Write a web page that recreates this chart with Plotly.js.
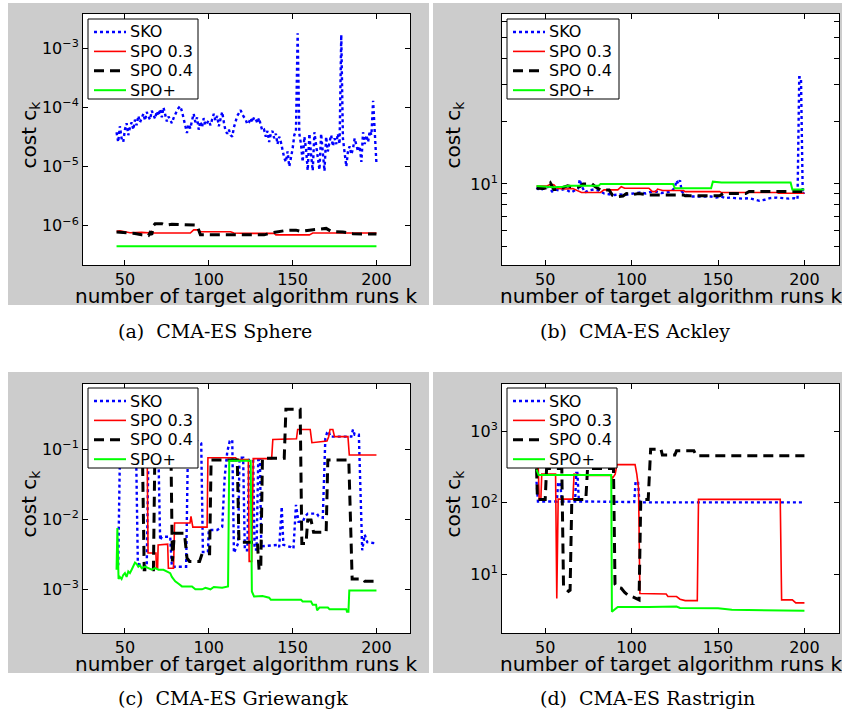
<!DOCTYPE html>
<html>
<head>
<meta charset="utf-8">
<script src="https://cdn.plot.ly/plotly-3.0.1.min.js"></script>
<style>
  html, body { margin: 0; padding: 0; background: #ffffff; }
  #chart { width: 842px; height: 715px; }
</style>
</head>
<body>
<div id="chart"></div>
<script>
// Cost c_k of the incumbent versus number of target algorithm runs k,
// for four tuning procedures on four CMA-ES benchmark problems.

const methods = ['SKO', 'SPO 0.3', 'SPO 0.4', 'SPO+'];
const xTickVals = [50, 100, 150, 200];

// ---------- (a) CMA-ES Sphere ----------
const skoSphereFirstRun = 45;
const skoSphere = [
  3.8e-5, 2.6e-5, 4.8e-5, 3.0e-5, 2.6e-5, 4.2e-5, 5.4e-5, 3.4e-5, 4.6e-5, 5.6e-5,
  4.2e-5, 6.2e-5, 5.0e-5, 7.2e-5, 5.6e-5, 6.6e-5, 7.8e-5, 6.0e-5, 8.4e-5, 7.0e-5,
  6.2e-5, 8.8e-5, 7.4e-5, 6.4e-5, 8.6e-5, 7.2e-5, 9.4e-5, 6.8e-5, 1.0e-4, 7.6e-5,
  5.8e-5, 7.0e-5, 6.0e-5, 5.4e-5, 6.6e-5, 7.8e-5, 8.8e-5, 9.8e-5, 1.05e-4, 8.6e-5,
  6.4e-5, 4.4e-5, 3.7e-5, 5.2e-5, 4.4e-5, 6.0e-5, 7.8e-5, 5.6e-5, 6.8e-5, 4.2e-5,
  5.8e-5, 4.6e-5, 6.6e-5, 5.0e-5, 5.4e-5, 6.0e-5, 5.0e-5, 6.6e-5, 7.8e-5, 6.0e-5,
  7.2e-5, 4.8e-5, 6.4e-5, 8.4e-5, 5.6e-5, 4.0e-5, 3.6e-5, 4.2e-5, 3.4e-5, 3.2e-5,
  4.6e-5, 5.8e-5, 7.2e-5, 8.0e-5, 9.0e-5, 7.6e-5, 6.8e-5, 6.2e-5, 5.2e-5, 5.6e-5,
  6.6e-5, 5.6e-5, 6.8e-5, 6.4e-5, 5.4e-5, 6.6e-5, 5.0e-5, 4.0e-5, 4.2e-5, 3.2e-5,
  4.0e-5, 2.6e-5, 3.6e-5, 4.0e-5, 3.0e-5, 3.6e-5, 2.4e-5, 3.2e-5, 2.6e-5, 1.8e-5,
  1.4e-5, 1.2e-5, 1.8e-5, 1.0e-5, 1.4e-5, 2.0e-5, 3.4e-5, 4.0e-5, 1.8e-3, 3.6e-5,
  2.4e-5, 1.2e-5, 3.2e-5, 2.0e-5, 8.6e-6, 3.6e-5, 1.6e-5, 8.5e-6, 3.8e-5, 2.2e-5,
  1.2e-5, 8.8e-6, 3.6e-5, 1.6e-5, 8.4e-6, 3.2e-5, 1.8e-5, 2.6e-5, 3.4e-5, 2.2e-5,
  3.0e-5, 2.4e-5, 3.6e-5, 2.4e-5, 1.7e-3, 3.0e-5, 1.6e-5, 1.0e-5, 1.8e-5, 2.2e-5,
  1.6e-5, 2.0e-5, 3.0e-5, 2.4e-5, 1.8e-5, 2.2e-5, 1.2e-5, 3.8e-5, 2.4e-5, 3.4e-5,
  2.6e-5, 4.0e-5, 3.4e-5, 1.3e-4, 3.2e-5, 1.1e-5
];
const spo03Sphere = [[45,8.0e-7],[47,8.2e-7],[50,7.9e-7],[53,7.6e-7],[60,7.7e-7],[64,7.6e-7],[66,8.0e-7],[67,7.5e-7],[89,7.5e-7],[91,8.5e-7],[94,8.5e-7],[95,7.9e-7],[113,7.9e-7],[115,7.5e-7],[124,7.4e-7],[139,7.4e-7],[140,7.0e-7],[160,7.0e-7],[162,7.5e-7],[200,7.5e-7]];
const spo04Sphere = [[45,7.8e-7],[50,7.6e-7],[56,7.4e-7],[60,7.0e-7],[64,6.8e-7],[65,7.6e-7],[66,7.0e-7],[67,1.0e-6],[68,1.08e-6],[72,1.08e-6],[74,1.02e-6],[78,1.06e-6],[82,1.05e-6],[86,1.02e-6],[93,1.02e-6],[95,7.0e-7],[133,7.0e-7],[137,7.5e-7],[142,7.9e-7],[146,8.3e-7],[152,8.4e-7],[155,8.0e-7],[160,8.4e-7],[164,8.6e-7],[170,9.0e-7],[173,8.0e-7],[180,7.8e-7],[186,7.3e-7],[200,7.2e-7]];
const spoPlusSphere = [[45,4.5e-7],[200,4.5e-7]];

// ---------- (b) CMA-ES Ackley ----------
const skoAckley = [[45,9.6],[47,9.3],[49,9.5],[52,9.7],[54,9.2],[56,9.4],[58,9.3],[61,9.45],[63,9.3],[65,9.1],[67,9.3],[69,9.5],[70,10.5],[71,9.8],[73,9.1],[75,9.3],[78,9.4],[81,9.3],[84,9.0],[87,8.9],[90,8.85],[93,8.9],[96,8.85],[99,8.95],[102,9.05],[105,9.1],[108,9.0],[111,9.15],[114,9.2],[117,9.05],[120,9.1],[123,9.2],[125,9.6],[126,10.4],[127,10.0],[128,10.4],[129,9.2],[131,8.9],[134,8.7],[138,8.7],[142,8.65],[146,8.7],[149,8.6],[152,8.7],[154,8.55],[157,8.6],[160,8.55],[164,8.5],[168,8.55],[171,8.45],[174,8.3],[177,8.4],[180,8.55],[184,8.6],[188,8.55],[191,8.5],[194,8.55],[196,8.45],[197,32.4],[198,32.4],[199,9.0],[200,9.1]];
const spo03Ackley = [[45,9.78],[51,9.78],[53,9.95],[55,9.9],[57,9.5],[62,9.45],[66,9.5],[71,9.1],[82,9.1],[84,9.36],[92,9.36],[94,9.7],[96,9.54],[110,9.54],[112,9.19],[114,9.19],[115,9.45],[118,9.3],[130,9.3],[131,9.19],[151,9.19],[152,9.09],[184,9.09],[185,9.02],[200,9.02]];
const spo04Ackley = [[45,9.54],[49,9.5],[51,9.6],[53,10.1],[55,9.4],[58,9.4],[60,9.6],[63,9.8],[67,9.6],[70,9.7],[72,10.0],[77,10.0],[79,9.7],[82,9.36],[87,9.36],[89,8.8],[92,8.69],[95,8.75],[97,9.0],[101,8.9],[104,9.0],[107,8.95],[110,8.86],[130,8.86],[131,8.78],[151,8.78],[153,9.0],[166,9.0],[168,9.2],[200,9.2]];
const spoPlusAckley = [[45,9.78],[50,9.7],[55,9.64],[60,9.7],[64,9.8],[70,9.8],[81,9.8],[82,10.0],[98,10.0],[99,10.05],[113,10.05],[114,10.0],[124,10.0],[125,9.54],[146,9.54],[147,10.25],[152,10.15],[192,10.15],[193,9.4],[200,9.4]];

// ---------- (c) CMA-ES Griewangk ----------
const skoGriewangk = [[45,0.0023],[46,0.0023],[47,0.08],[56.7,0.08],[57.7,0.0023],[61,0.0022],[63,0.0021],[64,0.08],[70,0.08],[71,0.005],[72,0.0056],[77,0.0056],[78,0.0021],[86.5,0.0021],[87.5,0.08],[89,0.13],[93,0.13],[95.5,0.12],[96.5,0.0034],[99.5,0.0034],[100,0.007],[105,0.007],[108,0.0078],[109.5,0.04],[111,0.09],[112.5,0.13],[114,0.135],[115,0.0033],[117.5,0.0045],[118.3,0.075],[120.5,0.075],[121.5,0.0036],[123,0.0036],[124,0.07],[126.5,0.07],[127.3,0.0037],[128.5,0.0037],[129.5,0.07],[130.5,0.07],[131.3,0.0041],[141,0.0043],[142,0.004],[143.5,0.015],[144.5,0.0043],[149,0.004],[150.5,0.0038],[152,0.016],[153.5,0.0092],[156,0.0092],[157.5,0.011],[159,0.012],[164.5,0.012],[165.5,0.011],[168,0.0105],[169.5,0.14],[170.5,0.17],[171.5,0.18],[172.5,0.15],[176,0.15],[185,0.15],[186,0.19],[187,0.16],[189.5,0.16],[190.5,0.03],[191.5,0.0036],[193,0.006],[194.5,0.0047],[200,0.0045]];
const spo03Griewangk = [[45,0.07],[63.3,0.07],[63.8,0.0033],[68.5,0.0033],[68.8,0.002],[69.5,0.002],[69.8,0.0043],[75.5,0.0044],[75.9,0.002],[79,0.002],[79.6,0.0088],[88.8,0.0088],[89.4,0.011],[90.5,0.0077],[99,0.0077],[99.5,0.075],[116,0.075],[117,0.071],[123.6,0.071],[124.1,0.0025],[125.6,0.0025],[126.5,0.073],[137.5,0.073],[138.2,0.137],[152.3,0.14],[153,0.19],[160.5,0.19],[161.5,0.123],[170.5,0.13],[171.5,0.15],[172.3,0.19],[174,0.19],[175,0.15],[183,0.15],[183.8,0.082],[200,0.082]];
const spo04Griewangk = [[45,0.07],[60.5,0.07],[61.5,0.0019],[67,0.0019],[67.8,0.07],[77.5,0.07],[78.3,0.0025],[79.5,0.0063],[85.5,0.0063],[87,0.0028],[88.5,0.0025],[94.5,0.0025],[96,0.0032],[100.5,0.0032],[101.4,0.07],[117,0.07],[118,0.0047],[129,0.0047],[130,0.0019],[131,0.0019],[132,0.074],[145,0.074],[146,0.37],[154.5,0.37],[155.5,0.0045],[158,0.0045],[159,0.0097],[161,0.0097],[162.5,0.0065],[170,0.0065],[171,0.07],[183.5,0.07],[185.5,0.0014],[192,0.0014],[193,0.0013],[200,0.0013]];
const spoPlusGriewangk = [[45,0.0019],[45.5,0.0075],[46.2,0.0014],[47,0.0015],[48,0.0014],[49,0.0016],[50,0.0017],[51,0.0015],[52,0.0018],[53,0.0017],[54,0.0019],[55,0.0021],[56,0.0024],[57,0.0023],[58,0.0021],[59,0.0022],[60,0.002],[62,0.0021],[64,0.002],[66,0.0019],[68,0.002],[70,0.0019],[73,0.0019],[75,0.0018],[77,0.0017],[78,0.0015],[80,0.0013],[82,0.0012],[84,0.0011],[86,0.0011],[90,0.0011],[92,0.001],[96,0.001],[98,0.00105],[101,0.001],[103,0.00108],[108,0.00105],[111.5,0.0011],[112.2,0.068],[125,0.068],[125.7,0.00093],[127,0.00079],[130,0.00079],[132,0.0008],[136,0.00076],[137,0.00071],[155,0.00071],[156,0.00067],[161,0.00067],[162,0.0006],[164,0.0006],[164.6,0.0005],[166,0.00055],[171,0.00055],[172,0.00052],[182,0.00052],[182.4,0.00048],[183.3,0.00048],[183.8,0.00096],[200,0.00096]];

// ---------- (d) CMA-ES Rastrigin ----------
const skoRastrigin = [[45,196],[45.8,104],[56.7,104],[57.5,190],[58.7,190],[59.6,104],[67.3,104],[68,260],[68.6,260],[69.5,104],[101.5,102],[102.3,196],[103.7,196],[104.5,101],[200,101]];
const spo03Rastrigin = [[45,300],[46,300],[46.5,112],[47.5,112],[48,250],[56,250],[56.7,4.6],[57.5,112],[66,112],[66.7,250],[74,240],[88,240],[89,220],[90.5,250],[91.5,340],[102,340],[103,250],[104,160],[104.8,5.4],[120,5.3],[121,4.9],[126,4.9],[128,4.5],[131,4.3],[138,4.3],[138.7,111],[186,111],[186.8,4.4],[193,4.4],[195,4.0],[200,4.0]];
const spo04Rastrigin = [[45,300],[45.5,111],[50,111],[50.8,300],[59.6,300],[60.6,6.8],[62,6.2],[63.5,5.8],[64.4,6.0],[65.4,111],[73.5,111],[74.5,300],[89.5,300],[90.4,7.3],[91.5,6.6],[94,6.4],[96,5.6],[98,5.1],[101,4.8],[104.3,4.4],[105.3,111],[109.6,111],[111,555],[117,555],[117.8,462],[125,462],[126,530],[136,530],[137.5,453],[200,453]];
const spoPlusRastrigin = [[45,290],[46.2,243],[88.2,243],[88.6,3.0],[90,3.2],[92,3.5],[110,3.5],[126,3.55],[128,3.4],[150,3.35],[158,3.2],[200,3.1]];

// ---------- styling ----------
const W = 842, H = 715;
const fx = x => x / W;          // page pixel -> paper x
const fy = y => 1 - y / H;      // page pixel -> paper y

const SANS = 'DejaVu Sans, Verdana, sans-serif';
const SERIF = 'DejaVu Serif, serif';
const styles = [
  { color: '#0000ff', width: 2.4, dash: 'dot' },
  { color: '#ff0000', width: 1.6, dash: 'solid' },
  { color: '#000000', width: 3,   dash: '10px,6px' },
  { color: '#00ff00', width: 2,   dash: 'solid' }
];

const split = pairs => ({ k: pairs.map(p => p[0]), c: pairs.map(p => p[1]) });
const sup = e => '10<sup>' + (e < 0 ? '\u2212' + (-e) : e) + '</sup>';

const skoSpherePairs = skoSphere.map((v, i) => [skoSphereFirstRun + i, v]);

const panels = [
  { box: [83, 14, 410, 265], gray: [8, 3, 429, 305], yRange: [-6.665, -2.42],
    yVals: [1e-6, 1e-5, 1e-4, 1e-3], yText: [sup(-6), sup(-5), sup(-4), sup(-3)],
    series: [skoSpherePairs, spo03Sphere, spo04Sphere, spoPlusSphere],
    legend: [88, 19, 198, 99], caption: '(a)  CMA-ES Sphere', capX: 116, capY: 331, yTitleX: 29 },
  { box: [502, 14, 839, 265], gray: [433, 3, 842, 305], yRange: [0.612, 1.813],
    yVals: [10], yText: [sup(1)], yMinor: [4, 5, 6, 7, 8, 9, 20, 30, 40, 50, 60],
    series: [skoAckley, spo03Ackley, spo04Ackley, spoPlusAckley],
    legend: [507, 19, 619, 99], caption: '(b)  CMA-ES Ackley', capX: 538, capY: 331, yTitleX: 453 },
  { box: [83, 384, 410, 633], gray: [8, 372, 429, 673], yRange: [-3.623, -0.073],
    yVals: [1e-3, 1e-2, 1e-1], yText: [sup(-3), sup(-2), sup(-1)],
    series: [skoGriewangk, spo03Griewangk, spo04Griewangk, spoPlusGriewangk],
    legend: [88, 388, 198, 468], caption: '(c)  CMA-ES Griewangk', capX: 116, capY: 698, yTitleX: 29 },
  { box: [502, 384, 839, 633], gray: [433, 372, 842, 673], yRange: [0.181, 3.656],
    yVals: [10, 100, 1000], yText: [sup(1), sup(2), sup(3)],
    series: [skoRastrigin, spo03Rastrigin, spo04Rastrigin, spoPlusRastrigin],
    legend: [507, 388, 617, 468], caption: '(d)  CMA-ES Rastrigin', capX: 538, capY: 698, yTitleX: 453 }
];

const traces = [];
const shapes = [];
const annotations = [];
const layout = {
  width: W, height: H,
  margin: { l: 0, r: 0, t: 0, b: 0 },
  paper_bgcolor: '#ffffff',
  plot_bgcolor: 'rgba(0,0,0,0)',
  showlegend: false,
  font: { family: SANS, color: '#000000' }
};

const axisCommon = {
  showline: true, linecolor: '#000000', linewidth: 1, mirror: 'ticks',
  ticks: 'inside', ticklen: 5, tickwidth: 1, tickcolor: '#000000',
  showgrid: false, zeroline: false,
  tickfont: { family: SANS, size: 16, color: '#000000' }
};

panels.forEach((p, i) => {
  const n = i === 0 ? '' : String(i + 1);
  const [x0, y0, x1, y1] = p.box;

  layout['xaxis' + n] = Object.assign({}, axisCommon, {
    domain: [fx(x0), fx(x1)], anchor: 'y' + n,
    range: [25, 220], tickmode: 'array', tickvals: xTickVals
  });
  const yAxis = Object.assign({}, axisCommon, {
    domain: [fy(y1), fy(y0)], anchor: 'x' + n, type: 'log',
    range: p.yRange, tickmode: 'array', tickvals: p.yVals, ticktext: p.yText
  });
  if (p.yMinor) {
    yAxis.minor = { tickmode: 'array', tickvals: p.yMinor, ticks: 'inside',
      ticklen: 5, tickwidth: 1, tickcolor: '#000000', showgrid: false };
  }
  layout['yaxis' + n] = yAxis;

  p.series.forEach((pairs, m) => {
    const s = split(pairs);
    traces.push({
      type: 'scatter', mode: 'lines', name: methods[m],
      x: s.k, y: s.c, xaxis: 'x' + n, yaxis: 'y' + n,
      line: styles[m], hoverinfo: 'skip', showlegend: false
    });
  });

  // grey figure panel and white axes area
  const [g0, g1, g2, g3] = p.gray;
  shapes.push({ type: 'rect', xref: 'paper', yref: 'paper', layer: 'below',
    x0: fx(g0), x1: fx(g2), y0: fy(g3), y1: fy(g1),
    fillcolor: '#cccccc', line: { width: 0 } });
  shapes.push({ type: 'rect', xref: 'paper', yref: 'paper', layer: 'below',
    x0: fx(x0), x1: fx(x1), y0: fy(y1), y1: fy(y0),
    fillcolor: '#ffffff', line: { width: 0 } });

  // legend box with line samples
  const [l0, t0, l1, t1] = p.legend;
  shapes.push({ type: 'rect', xref: 'paper', yref: 'paper', layer: 'above',
    x0: fx(l0), x1: fx(l1), y0: fy(t1), y1: fy(t0),
    fillcolor: '#ffffff', line: { color: '#000000', width: 1 } });
  methods.forEach((name, m) => {
    const yy = t0 + 13 + 19.4 * m;
    shapes.push({ type: 'line', xref: 'paper', yref: 'paper', layer: 'above',
      x0: fx(l0 + 6), x1: fx(l0 + 38), y0: fy(yy), y1: fy(yy),
      line: { color: styles[m].color, width: styles[m].width, dash: styles[m].dash } });
    annotations.push({ xref: 'paper', yref: 'paper', x: fx(l0 + 40), y: fy(yy),
      xanchor: 'left', yanchor: 'middle', showarrow: false, text: name,
      font: { family: SANS, size: 16, color: '#000000' } });
  });

  // axis titles
  annotations.push({ xref: 'paper', yref: 'paper', x: fx((x0 + x1) / 2), y: fy(y1 + 31),
    xanchor: 'center', yanchor: 'middle', showarrow: false,
    text: 'number of target algorithm runs k',
    font: { family: SANS, size: 20, color: '#000000' } });
  annotations.push({ xref: 'paper', yref: 'paper', x: fx(p.yTitleX), y: fy((y0 + y1) / 2 - 5),
    xanchor: 'center', yanchor: 'middle', showarrow: false, textangle: -90,
    text: 'cost c<sub>k</sub>',
    font: { family: SANS, size: 20, color: '#000000' } });

  // sub-figure caption
  annotations.push({ xref: 'paper', yref: 'paper', x: fx(p.capX), y: fy(p.capY),
    xanchor: 'left', yanchor: 'middle', showarrow: false, text: p.caption,
    font: { family: SERIF, size: 19, color: '#000000' } });
});

layout.shapes = shapes;
layout.annotations = annotations;

Plotly.newPlot('chart', traces, layout, { staticPlot: true, displayModeBar: false });
</script>
</body>
</html>
